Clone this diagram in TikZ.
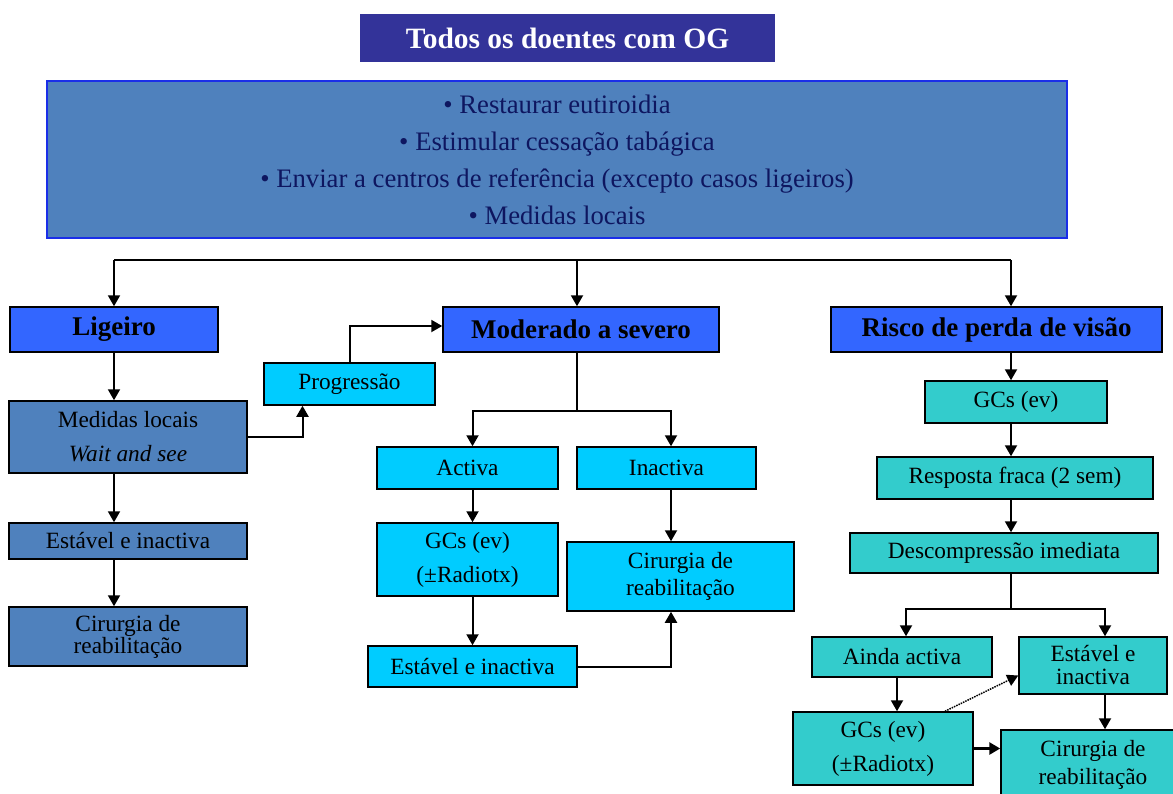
\documentclass[tikz,border=0pt]{standalone}
\usepackage{fontspec}
\setmainfont{Liberation Serif}
\usepackage{xcolor}
\usepackage{tikz}
\usetikzlibrary{arrows.meta}
\definecolor{titleblue}{HTML}{333399}
\definecolor{steel}{HTML}{4F81BD}
\definecolor{topline}{HTML}{1A2EE8}
\definecolor{toptext}{HTML}{0E1660}
\definecolor{catblue}{HTML}{3366FF}
\definecolor{cyanbox}{HTML}{00CCFF}
\definecolor{tealbox}{HTML}{33CCCC}

\begin{document}
\begin{tikzpicture}[x=1pt,y=-1pt,>={Triangle[width=12pt,length=11pt]},
 line/.style={line width=2pt},
 arr/.style={line width=2pt,->},
 box/.style={draw=black,line width=1.5pt,inner sep=0pt,align=center,font=\fontsize{23.3}{34}\selectfont},
 cat/.style={box,fill=catblue,minimum height=45pt,font=\fontsize{27}{30}\selectfont\bfseries},
 lbox/.style 2 args={box,fill=steel,minimum width=#1,minimum height=#2},
 mbox/.style 2 args={box,fill=cyanbox,minimum width=#1,minimum height=#2},
 rbox/.style 2 args={box,fill=tealbox,minimum width=#1,minimum height=#2}]
\useasboundingbox (0,0) rectangle (1173,793);
\clip (0,0) rectangle (1173,793);
\node[fill=titleblue,text=white,minimum width=415pt,minimum height=48pt,font=\fontsize{29.5}{32}\selectfont\bfseries](all) at (567.5,38){Todos os doentes com OG};
\node[fill=steel,draw=topline,line width=1.5pt,minimum width=1020pt,minimum height=157pt,align=center,text=toptext,font=\fontsize{26.7}{37}\selectfont](gen) at (557,159.5)
 {\textbullet{} Restaurar eutiroidia\\\textbullet{} Estimular cessação tabágica\\\textbullet{} Enviar a centros de referência (excepto casos ligeiros)\\\textbullet{} Medidas locais};
\node[cat,minimum width=208pt](lig) at (114,329.5){Ligeiro};
\node[cat,minimum width=276pt](mod) at (581,329.5){Moderado a severo};
\node[cat,minimum width=331pt](risk) at (996.5,329.5){Risco de perda de visão};
\node[mbox={171}{42}](prog) at (349.5,384){Progressão};
\node[lbox={238}{72}](loc) at (128,437){Medidas locais\\\textit{Wait and see}};
\node[lbox={238}{36}](stabL) at (128,541){Estável e inactiva};
\node[lbox={238}{59},font=\fontsize{23.3}{22}\selectfont](surgL) at (128,636.5){Cirurgia de\\reabilitação};
\node[mbox={181}{42}](act) at (467.5,468){Activa};
\node[mbox={179}{42}](inact) at (666.5,468){Inactiva};
\node[mbox={181}{73}](gcsM) at (467.5,559.5){GCs (ev)\\(±Radiotx)};
\node[mbox={227}{69},font=\fontsize{23.3}{27}\selectfont](surgM) at (680.5,576.5){Cirurgia de\\reabilitação};
\node[mbox={209}{41}](stabM) at (472.5,666.5){Estável e inactiva};
\node[rbox={182}{42}](gcsR) at (1016,402){GCs (ev)};
\node[rbox={276}{42}](weak) at (1015,478){Resposta fraca (2 sem)};
\node[rbox={308}{40}](dec) at (1004,553){Descompressão imediata};
\node[rbox={180}{40}](still) at (902,657){Ainda activa};
\node[rbox={148}{57},font=\fontsize{23.3}{23}\selectfont](stabR) at (1093,665.5){Estável e\\inactiva};
\node[rbox={180}{73}](gcsB) at (883,748.5){GCs (ev)\\(±Radiotx)};
\node[rbox={184}{70},font=\fontsize{23.3}{28}\selectfont](surgR) at (1093,765){Cirurgia de\\reabilitação};
\coordinate(barL) at (114,260);
\coordinate(barM) at (577,260);
\coordinate(barR) at (1011,260);
\draw[line](barL)--(barR);
\draw[arr](barL)--(lig.north);
\draw[arr](barM)--(barM |- mod.north);
\draw[arr](barR)--(barR |- risk.north);
\draw[arr](lig.south)--(lig.south |- loc.north);
\draw[arr](loc.south -| lig)--(stabL.north -| lig);
\draw[arr](stabL.south -| lig)--(surgL.north -| lig);
\draw[arr](loc.east)-|([xshift=-47pt]prog.south);
\draw[arr](prog.north)|-([yshift=3.5pt]mod.west);
\draw[line](barM |- mod.south)--++(0,58)coordinate(splitM);
\draw[arr](splitM)-|(stabM |- act.north);
\draw[arr](splitM)-|([xshift=4.5pt]inact.north);
\draw[arr](stabM |- act.south)--(stabM |- gcsM.north);
\draw[arr](stabM |- gcsM.south)--(stabM.north);
\draw[arr]([xshift=4.5pt]inact.south)--([xshift=4.5pt]inact.south |- surgM.north);
\draw[arr](stabM.east)-|([xshift=4.5pt]inact.south |- surgM.south);
\draw[arr](barR |- risk.south)--(barR |- gcsR.north);
\draw[arr](barR |- gcsR.south)--(barR |- weak.north);
\draw[arr](barR |- weak.south)--(barR |- dec.north);
\draw[line](barR |- dec.south)--++(0,35)coordinate(splitR);
\draw[arr](splitR)-|([xshift=4pt]still.north);
\draw[arr](splitR)-|([xshift=12pt]stabR.north);
\draw[arr]([xshift=-5pt]still.south)--([xshift=-5pt]still.south |- gcsB.north);
\draw[arr,line width=1.5pt,densely dotted]([xshift=62pt]gcsB.north)--([yshift=-10pt]stabR.west);
\draw[arr]([xshift=12pt]stabR.south)--([xshift=12pt]stabR.south |- surgR.north);
\draw[arr,line width=3pt](gcsB.east)--(gcsB.east -| surgR.west);
\end{tikzpicture}
\end{document}
